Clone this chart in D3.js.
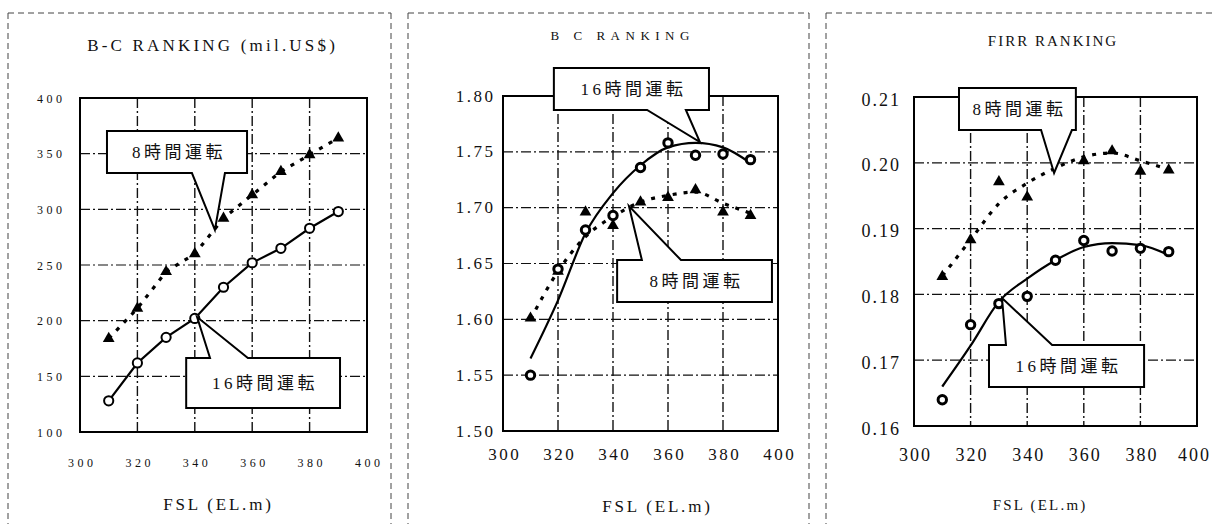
<!DOCTYPE html>
<html>
<head>
<meta charset="utf-8">
<script src="https://cdn.jsdelivr.net/npm/d3@7"></script>
<style>
  html, body { margin: 0; padding: 0; background: #fff; }
  svg { display: block; }
  text { font-family: "Liberation Serif", "Times New Roman", "DejaVu Serif", serif; fill: #111; }
  .cjk { font-family: "Liberation Serif", "Noto Sans CJK JP", serif; }
</style>
</head>
<body>
<svg id="chart" width="1212" height="524"></svg>
<script>
// ---------------- DATA ----------------
const fsl = [310, 320, 330, 340, 350, 360, 370, 380, 390];
const xTicks = [300, 320, 340, 360, 380, 400];

// Panel 1: B-C RANKING (mil.US$)
const bcTicks = [100, 150, 200, 250, 300, 350, 400];
const bc16 = [128, 162, 185, 202, 230, 252, 265, 283, 298];
const bc8  = [184, 211, 244, 260, 292, 313, 334, 349, 364];

// Panel 2: B/C RANKING
const bcrTicks = [1.50, 1.55, 1.60, 1.65, 1.70, 1.75, 1.80];
const bcr16    = [1.550, 1.645, 1.680, 1.693, 1.736, 1.758, 1.747, 1.748, 1.743];
const bcr8     = [1.601, 1.643, 1.696, 1.684, 1.705, 1.709, 1.716, 1.696, 1.693];
const bcr16Fit = [1.565, 1.617, 1.677, 1.713, 1.738, 1.754, 1.758, 1.754, 1.740];
const bcr8Fit  = [1.600, 1.643, 1.674, 1.692, 1.705, 1.711, 1.714, 1.704, 1.695];

// Panel 3: FIRR RANKING
const firrTicks = [0.16, 0.17, 0.18, 0.19, 0.20, 0.21];
const firr16    = [0.1640, 0.1754, 0.1786, 0.1797, 0.1852, 0.1882, 0.1866, 0.1870, 0.1865];
const firr8     = [0.1827, 0.1883, 0.1971, 0.1948, null, 0.2003, 0.2018, 0.1987, 0.1989];
const firr16Fit = [0.1660, 0.1722, 0.1789, 0.1824, 0.1852, 0.1872, 0.1878, 0.1875, 0.1860];
const firr8Fit  = [0.1828, 0.1883, 0.1938, 0.1969, 0.1992, 0.2009, 0.2015, 0.2003, 0.1990];

const label8 = "8時間運転";
const label16 = "16時間運転";

// Callouts in data space: box [x0, x1, yTop, yBottom], pointer base [xa, xb], tip [x, y]
const callouts1 = [
  { text: label8,  box: [309.4, 358.2, 370.4, 332.6], base: [339.0, 350.5], tip: [347.0, 281.5] },
  { text: label16, box: [337.0, 390.6, 166.5, 121.6], base: [345.3, 358.5], tip: [340.8, 203.3] }
];
const callouts2 = [
  { text: label16, box: [318.5, 374.9, 1.8250, 1.7875], base: [352.4, 366.5], tip: [371.6, 1.7588] },
  { text: label8,  box: [341.5, 397.8, 1.6531, 1.6155], base: [350.5, 364.7], tip: [345.8, 1.7015] }
];
const callouts3 = [
  { text: label8,  box: [315.9, 357.2, 0.21137, 0.20498], base: [344.9, 355.8], tip: [349.5, 0.19845] },
  { text: label16, box: [326.5, 381.3, 0.17231, 0.16593], base: [332.5, 348.8], tip: [331.1, 0.17945] }
];

// ---------------- LAYOUT ----------------
const W = 1212;
const panels = [
  {
    rect: { l: 80, r: 367, t: 98, b: 432 },
    yDomain: [100, 400], yTicks: bcTicks, yFmt: d3.format("d"),
    s16: bc16, s8: bc8, f16: bc16, f8: bc8, smooth: false,
    callouts: callouts1,
    title: "B-C RANKING (mil.US$)", titleX: 211, titleY: 51, titleSize: 17, titleLS: 3.2,
    xlab: { x: 217, y: 510, size: 17, ls: 2.8 },
    tickSize: 12, tickLS: 3.5, xTickY: 467, yTickGap: 18, yTickDy: 4,
    circleR: 4.6, circleSW: 2,
    border: [[8, 13, 8, 524], [8, 13, 391, 13], [391, 13, 391, 524]]
  },
  {
    rect: { l: 503, r: 778, t: 96, b: 431 },
    yDomain: [1.50, 1.80], yTicks: bcrTicks, yFmt: d3.format(".2f"),
    s16: bcr16, s8: bcr8, f16: bcr16Fit, f8: bcr8Fit, smooth: true,
    callouts: callouts2,
    title: "B C RANKING", titleX: 620, titleY: 39.5, titleSize: 13, titleLS: 5.5,
    xlab: { x: 656, y: 512, size: 17, ls: 2.8 },
    tickSize: 17, tickLS: 2.5, xTickY: 460, yTickGap: 10, yTickDy: 5,
    circleR: 4.2, circleSW: 3,
    border: [[408, 13, 408, 524], [408, 13, 809, 13], [809, 13, 809, 524]]
  },
  {
    rect: { l: 914, r: 1197, t: 97, b: 426 },
    yDomain: [0.16, 0.21], yTicks: firrTicks, yFmt: d3.format(".2f"),
    s16: firr16, s8: firr8, f16: firr16Fit, f8: firr8Fit, smooth: true,
    callouts: callouts3,
    title: "FIRR RANKING", titleX: 1052, titleY: 45.5, titleSize: 15, titleLS: 2,
    xlab: { x: 1039, y: 510, size: 15, ls: 2.2 },
    tickSize: 18, tickLS: 2, xTickY: 461, yTickGap: 15, yTickDy: 8,
    circleR: 4.2, circleSW: 3,
    border: [[826, 13, 826, 524], [826, 13, 1212, 13]]
  }
];

const svg = d3.select("#chart");

panels.forEach(p => {
  const g = svg.append("g");
  const x = d3.scaleLinear().domain([300, 400]).range([p.rect.l, p.rect.r]);
  const y = d3.scaleLinear().domain(p.yDomain).range([p.rect.b, p.rect.t]);

  // outer dashed panel border
  p.border.forEach(seg => {
    g.append("line")
      .attr("x1", seg[0]).attr("y1", seg[1]).attr("x2", seg[2]).attr("y2", seg[3])
      .attr("stroke", "#444").attr("stroke-width", 1).attr("stroke-dasharray", "6,4");
  });

  // gridlines (dash-dot)
  g.append("g").selectAll("line").data(xTicks.slice(1, -1)).join("line")
    .attr("x1", d => x(d)).attr("x2", d => x(d))
    .attr("y1", p.rect.t).attr("y2", p.rect.b)
    .attr("stroke", "#111").attr("stroke-width", 1.4)
    .attr("stroke-dasharray", "10,3,2,3");
  g.append("g").selectAll("line").data(p.yTicks.slice(1, -1)).join("line")
    .attr("x1", p.rect.l).attr("x2", p.rect.r)
    .attr("y1", d => y(d)).attr("y2", d => y(d))
    .attr("stroke", "#111").attr("stroke-width", 1.2)
    .attr("stroke-dasharray", "10,3,2,3");

  // frame
  g.append("rect")
    .attr("x", p.rect.l).attr("y", p.rect.t)
    .attr("width", p.rect.r - p.rect.l).attr("height", p.rect.b - p.rect.t)
    .attr("fill", "none").attr("stroke", "#000").attr("stroke-width", 2);

  // tick labels via d3 axes (no lines)
  const xAxis = d3.axisBottom(x).tickValues(xTicks).tickSize(0).tickFormat(d3.format("d"));
  const xa = g.append("g").attr("transform", `translate(0,${p.xTickY})`).call(xAxis);
  xa.attr("font-family", null);
  xa.select(".domain").remove();
  xa.selectAll("text")
    .attr("y", 0).attr("dy", 0)
    .style("font-family", "'Liberation Serif', 'Times New Roman', serif")
    .style("font-size", p.tickSize + "px")
    .style("letter-spacing", p.tickLS + "px")
    .attr("dx", p.tickLS / 2)
    .attr("fill", "#111");
  // keep labels inside the page
  xa.selectAll("text").each(function () {
    const bb = this.getBoundingClientRect();
    if (bb.right > W - 1) {
      d3.select(this).attr("dx", p.tickLS / 2 - (bb.right - (W - 1)));
    }
  });

  const yAxis = d3.axisLeft(y).tickValues(p.yTicks).tickSize(0).tickFormat(p.yFmt);
  const ya = g.append("g").attr("transform", `translate(${p.rect.l - p.yTickGap},0)`).call(yAxis);
  ya.attr("font-family", null);
  ya.select(".domain").remove();
  ya.selectAll("text")
    .attr("x", p.tickLS).attr("dy", p.yTickDy)
    .style("font-family", "'Liberation Serif', 'Times New Roman', serif")
    .style("font-size", p.tickSize + "px")
    .style("letter-spacing", p.tickLS + "px")
    .attr("fill", "#111");

  // lines
  const pts16 = fsl.map((v, i) => [v, p.f16[i]]).filter(d => d[1] != null);
  const pts8 = fsl.map((v, i) => [v, p.f8[i]]).filter(d => d[1] != null);
  const curve = p.smooth ? d3.curveMonotoneX : d3.curveLinear;
  const line = d3.line().x(d => x(d[0])).y(d => y(d[1])).curve(curve);

  g.append("path").attr("d", line(pts16))
    .attr("fill", "none").attr("stroke", "#000").attr("stroke-width", 2.2);
  g.append("path").attr("d", line(pts8))
    .attr("fill", "none").attr("stroke", "#000").attr("stroke-width", 3.2)
    .attr("stroke-dasharray", "4,7");

  // markers
  const m16 = fsl.map((v, i) => [v, p.s16[i]]).filter(d => d[1] != null);
  const m8 = fsl.map((v, i) => [v, p.s8[i]]).filter(d => d[1] != null);
  g.append("g").selectAll("path").data(m8).join("path")
    .attr("d", d3.symbol(d3.symbolTriangle, 60)())
    .attr("transform", d => `translate(${x(d[0])},${y(d[1])})`)
    .attr("fill", "#000");
  g.append("g").selectAll("circle").data(m16).join("circle")
    .attr("cx", d => x(d[0])).attr("cy", d => y(d[1])).attr("r", p.circleR)
    .attr("fill", "#fff").attr("stroke", "#000").attr("stroke-width", p.circleSW);

  // callouts
  p.callouts.forEach(c => {
    const x0 = x(c.box[0]), x1 = x(c.box[1]);
    const y0 = y(c.box[2]), y1 = y(c.box[3]);
    const ba = x(c.base[0]), bb = x(c.base[1]);
    const tx = x(c.tip[0]), ty = y(c.tip[1]);
    const path = d3.path();
    if (ty > y1) {
      path.moveTo(x0, y0); path.lineTo(x1, y0); path.lineTo(x1, y1);
      path.lineTo(bb, y1); path.lineTo(tx, ty); path.lineTo(ba, y1);
      path.lineTo(x0, y1); path.closePath();
    } else {
      path.moveTo(x0, y0); path.lineTo(ba, y0); path.lineTo(tx, ty);
      path.lineTo(bb, y0); path.lineTo(x1, y0); path.lineTo(x1, y1);
      path.lineTo(x0, y1); path.closePath();
    }
    g.append("path").attr("d", path.toString())
      .attr("fill", "#fff").attr("stroke", "#000").attr("stroke-width", 2)
      .attr("stroke-linejoin", "miter");
    g.append("text").attr("class", "cjk")
      .attr("x", (x0 + x1) / 2 + 2).attr("y", (y0 + y1) / 2 + 6)
      .attr("text-anchor", "middle")
      .style("font-size", "17px").style("letter-spacing", "3.5px")
      .text(c.text);
  });

  // title
  g.append("text")
    .attr("x", p.titleX + p.titleLS / 2).attr("y", p.titleY)
    .attr("text-anchor", "middle")
    .style("font-size", p.titleSize + "px")
    .style("letter-spacing", p.titleLS + "px")
    .text(p.title);

  // x axis label
  g.append("text")
    .attr("x", p.xlab.x + p.xlab.ls / 2).attr("y", p.xlab.y)
    .attr("text-anchor", "middle")
    .style("font-size", p.xlab.size + "px")
    .style("letter-spacing", p.xlab.ls + "px")
    .text("FSL (EL.m)");
});
</script>
</body>
</html>
